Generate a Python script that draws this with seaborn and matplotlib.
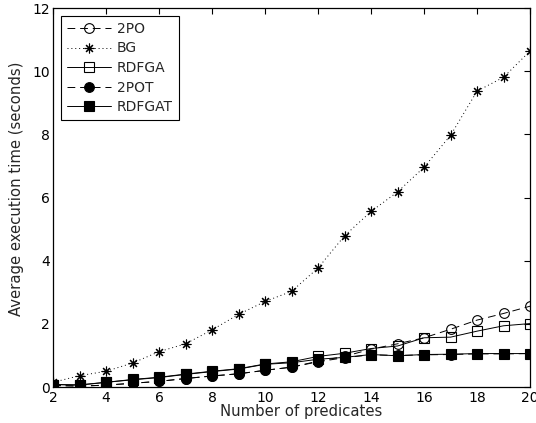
import numpy as np
import pandas as pd
import matplotlib
matplotlib.use('Agg')
import matplotlib.pyplot as plt
import seaborn as sns

# Dữ liệu
predicates = list(range(2, 21))
po_2 = [0.05, 0.03, 0.06, 0.12, 0.18, 0.27, 0.35, 0.42, 0.53, 0.63, 0.82, 0.97, 1.20, 1.37, 1.56, 1.83, 2.12, 2.33, 2.56]
bg = [0.15, 0.36, 0.50, 0.76, 1.12, 1.37, 1.81, 2.30, 2.71, 3.03, 3.77, 4.79, 5.56, 6.18, 6.96, 7.97, 9.37, 9.81, 10.64]
rdfga = [0.08, 0.07, 0.15, 0.24, 0.31, 0.41, 0.50, 0.58, 0.73, 0.80, 0.97, 1.07, 1.22, 1.30, 1.56, 1.58, 1.77, 1.94, 2.01]
pot_2 = [0.05, 0.03, 0.06, 0.12, 0.18, 0.27, 0.35, 0.42, 0.53, 0.63, 0.80, 0.93, 1.02, 1.00, 1.02, 1.03, 1.05, 1.05, 1.06]
rdfgat = [0.08, 0.06, 0.15, 0.23, 0.30, 0.40, 0.49, 0.57, 0.72, 0.77, 0.88, 0.94, 1.03, 0.99, 1.03, 1.04, 1.06, 1.06, 1.06]

series = ['2PO', 'BG', 'RDFGA', '2POT', 'RDFGAT']
values = [po_2, bg, rdfga, pot_2, rdfgat]

df = pd.DataFrame({'x': predicates * len(series),
                   'y': sum(values, []),
                   'method': np.repeat(series, len(predicates))})

sns.set_style('white')
plt.rcParams['font.family'] = ['DejaVu Sans']

styles = {
    '2PO': dict(linestyle=(0, (8, 5)), marker='o', markerfacecolor='none', markersize=7),
    'BG': dict(linestyle=(0, (1, 3)), marker=(8, 2, 0), markersize=7),
    'RDFGA': dict(linestyle='-', marker='s', markerfacecolor='none', markersize=6.5),
    '2POT': dict(linestyle=(0, (8, 5)), marker='o', markerfacecolor='black', markersize=7),
    'RDFGAT': dict(linestyle='-', marker='s', markerfacecolor='black', markersize=6.5),
}

fig = plt.figure(figsize=(5.36, 4.23), dpi=100)
ax = fig.add_axes([0.099, 0.085, 0.89, 0.896])

for name in series:
    sub = df[df['method'] == name]
    sns.lineplot(data=sub, x='x', y='y', ax=ax, color='black', linewidth=0.7,
                 markeredgecolor='black', markeredgewidth=0.8, label=name,
                 **styles[name])

ax.set_xlim(2, 20)
ax.set_ylim(0, 12)
ax.set_xticks(range(2, 21, 2))
ax.set_yticks(range(0, 13, 2))
ax.tick_params(direction='in', top=True, right=True, length=4, width=0.8,
               labelsize=10, colors='black', pad=2.5)
for s in ax.spines.values():
    s.set_color('black')
    s.set_linewidth(0.9)

ax.set_xlabel('Number of predicates', fontsize=10.7)
ax.set_ylabel('Average execution time (seconds)', fontsize=10.7)
ax.xaxis.set_label_coords(0.52, -0.046)
ax.yaxis.set_label_coords(-0.06, 0.522)

leg = ax.legend(loc='upper left', fontsize=10, handlelength=3.2, labelspacing=0.4,
                borderaxespad=0.6, fancybox=False, framealpha=1, borderpad=0.4,
                handletextpad=0.4)
leg.get_frame().set_edgecolor('black')
leg.get_frame().set_linewidth(0.8)

fig.savefig('out.png', dpi=100)
